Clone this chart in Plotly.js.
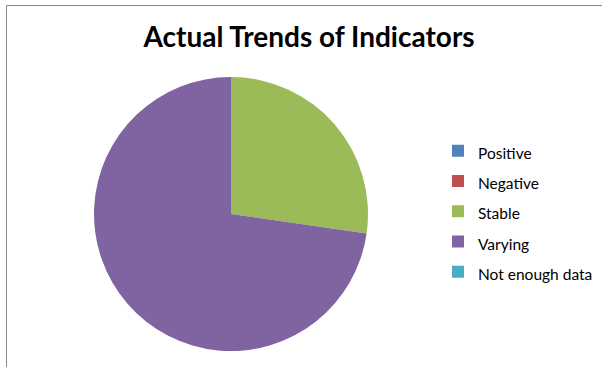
<!DOCTYPE html>
<html>
<head>
<meta charset="utf-8">
<script src="https://cdn.plot.ly/plotly-3.0.1.min.js"></script>
<style>html,body{margin:0;padding:0;background:#fff;}#chart{width:602px;height:367px;}</style>
</head>
<body>
<div id="chart"></div>
<script>
const categories = ["Positive", "Negative", "Stable", "Varying", "Not enough data"];
const counts = [0, 0, 3, 8, 0];
const colors = ["#4F81BD", "#C0504D", "#9BBB59", "#8064A2", "#4BACC6"];
const chartTitle = "Actual Trends of Indicators";

const W = 602, H = 367;
const cx = 231, cy = 214, r = 137;

const trace = {
  type: "pie",
  labels: categories.map(c => '<span style="font-size:15.5px">' + c + '</span>'),
  values: counts,
  marker: {colors: colors, line: {width: 0}},
  sort: false,
  direction: "clockwise",
  rotation: 0,
  textinfo: "none",
  hoverinfo: "skip",
  domain: {x: [(cx - r) / W, (cx + r) / W], y: [1 - (cy + r) / H, 1 - (cy - r) / H]}
};

const layout = {
  width: W, height: H,
  margin: {l: 0, r: 0, t: 0, b: 0},
  paper_bgcolor: "#fff",
  title: {text: chartTitle, font: {family: "Lato", size: 28, color: "#000", weight: "bold"}, x: 309 / W, xanchor: "center", y: 1 - 37 / H, yanchor: "middle", yref: "container"},
  showlegend: true,
  legend: {x: 438 / W, xanchor: "left", y: 1 - 211.5 / H, yanchor: "middle", font: {family: "Lato", size: 21, color: "#000"}, bgcolor: "rgba(0,0,0,0)"},
  shapes: [
    {type: "line", xref: "paper", yref: "paper", x0: 6.5 / W, x1: 6.5 / W, y0: 0, y1: 1 - 5.5 / H, line: {color: "#8a8a8a", width: 1}},
    {type: "line", xref: "paper", yref: "paper", x0: 6.5 / W, x1: 1, y0: 1 - 5.5 / H, y1: 1 - 5.5 / H, line: {color: "#8a8a8a", width: 1}}
  ]
};

Plotly.newPlot("chart", [trace], layout, {staticPlot: true, displayModeBar: false});
</script>
</body>
</html>
